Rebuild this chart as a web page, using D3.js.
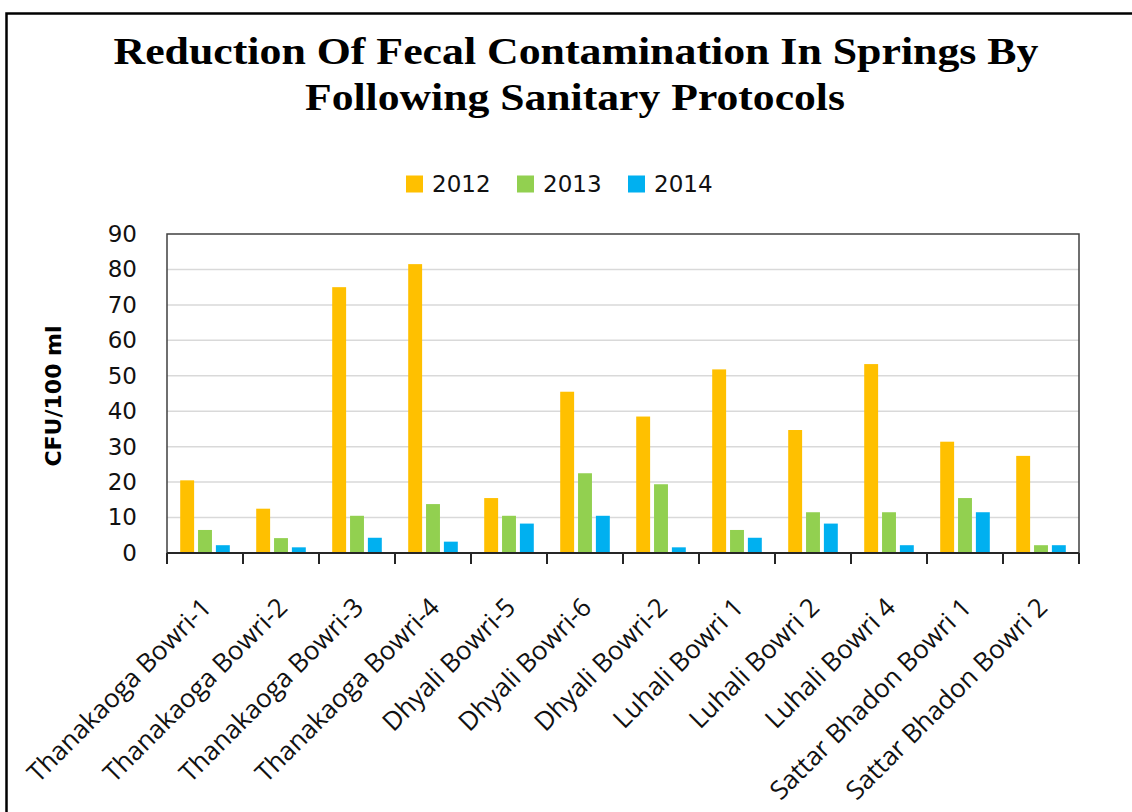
<!DOCTYPE html>
<html>
<head>
<meta charset="utf-8">
<script src="https://cdn.jsdelivr.net/npm/d3@7"></script>
<style>
  html, body { margin: 0; padding: 0; background: #fff; }
  svg { display: block; }
</style>
</head>
<body>
<div id="chart"></div>
<script>
// --- Data ---
const springs = ["Thanakaoga Bowri-1", "Thanakaoga Bowri-2", "Thanakaoga Bowri-3", "Thanakaoga Bowri-4",
                 "Dhyali Bowri-5", "Dhyali Bowri-6", "Dhyali Bowri-2", "Luhali Bowri 1",
                 "Luhali Bowri 2", "Luhali Bowri 4", "Sattar Bhadon Bowri 1", "Sattar Bhadon Bowri 2"];
const years = ["2012", "2013", "2014"];
const values2012 = [20.5, 12.5, 75, 81.5, 15.5, 45.5, 38.5, 51.8, 34.7, 53.3, 31.4, 27.4];
const values2013 = [6.5, 4.2, 10.5, 13.8, 10.5, 22.5, 19.4, 6.5, 11.5, 11.5, 15.5, 2.2];
const values2014 = [2.2, 1.6, 4.3, 3.2, 8.3, 10.5, 1.6, 4.3, 8.3, 2.2, 11.5, 2.2];
const yTicks = [0, 10, 20, 30, 40, 50, 60, 70, 80, 90];
const colors = ["#FFC000", "#92D050", "#00B0F0"];

const seriesValues = [values2012, values2013, values2014];
const rows = springs.map((s, i) => ({
  name: s,
  vals: years.map((y, k) => ({ year: y, value: seriesValues[k][i] }))
}));

const width = 1132, height = 812;
const plot = { left: 167, right: 1079, top: 234, bottom: 553 };

const svg = d3.select("#chart").append("svg")
  .attr("width", width)
  .attr("height", height);

svg.append("rect").attr("width", width).attr("height", height).attr("fill", "#fff");

// outer frame (only top and left edges are visible in the reference)
svg.append("path")
  .attr("d", `M6.5,${height} V13.5 H${width}`)
  .attr("fill", "none")
  .attr("stroke", "#000")
  .attr("stroke-width", 2.5);

// --- Title ---
const title = svg.append("text")
  .attr("text-anchor", "middle")
  .attr("font-family", "'Liberation Serif', serif")
  .attr("font-weight", "bold")
  .attr("font-size", 38)
  .attr("fill", "#000");
title.append("tspan").attr("x", 576).attr("y", 64)
  .attr("textLength", 925).attr("lengthAdjust", "spacingAndGlyphs")
  .text("Reduction Of Fecal Contamination  In Springs By");
title.append("tspan").attr("x", 575).attr("y", 110)
  .attr("textLength", 540).attr("lengthAdjust", "spacingAndGlyphs")
  .text("Following Sanitary Protocols");

// --- Legend ---
const legendX = [406, 517, 628];
const legend = svg.append("g");
years.forEach((y, k) => {
  legend.append("rect")
    .attr("x", legendX[k]).attr("y", 175.5)
    .attr("width", 17).attr("height", 17)
    .attr("fill", colors[k]);
  legend.append("text")
    .attr("x", legendX[k] + 26).attr("y", 192)
    .attr("font-family", "'DejaVu Sans', sans-serif")
    .attr("font-size", 23)
    .attr("fill", "#111")
    .text(y);
});

// --- Scales ---
const x0 = d3.scaleBand().domain(springs).range([plot.left, plot.right]).padding(0);
const x1 = d3.scaleBand().domain(years).range([0, x0.bandwidth()])
  .paddingInner(0.22).paddingOuter(0.74);
const y = d3.scaleLinear().domain([0, 90]).range([plot.bottom, plot.top]);
const color = d3.scaleOrdinal().domain(years).range(colors);

// gridlines
svg.append("g")
  .selectAll("line")
  .data(yTicks.filter(t => t > 0 && t < 90))
  .join("line")
  .attr("x1", plot.left).attr("x2", plot.right)
  .attr("y1", d => y(d)).attr("y2", d => y(d))
  .attr("stroke", "#d9d9d9")
  .attr("stroke-width", 1.5);

// bars
svg.append("g")
  .selectAll("g")
  .data(rows)
  .join("g")
  .attr("transform", d => `translate(${x0(d.name)},0)`)
  .selectAll("rect")
  .data(d => d.vals)
  .join("rect")
  .attr("x", d => x1(d.year))
  .attr("width", x1.bandwidth())
  .attr("y", d => y(d.value))
  .attr("height", d => y(0) - y(d.value))
  .attr("fill", d => color(d.year));

// plot frame (top, left, right)
svg.append("path")
  .attr("d", `M${plot.left},${plot.bottom} V${plot.top} H${plot.right} V${plot.bottom}`)
  .attr("fill", "none")
  .attr("stroke", "#404040")
  .attr("stroke-width", 1.5);

// y axis labels
const yAxis = svg.append("g")
  .attr("transform", `translate(${plot.left},0)`)
  .call(d3.axisLeft(y).tickValues(yTicks).tickSize(0).tickPadding(30));
yAxis.select(".domain").remove();
yAxis.selectAll("text")
  .attr("font-family", "'DejaVu Sans', sans-serif")
  .attr("font-size", 23)
  .attr("fill", "#111");

// x axis: line plus ticks at category boundaries
const bounds = springs.map(s => x0(s)).concat([plot.right]);
const xAxis = svg.append("g");
xAxis.append("line")
  .attr("x1", plot.left).attr("x2", plot.right)
  .attr("y1", plot.bottom).attr("y2", plot.bottom)
  .attr("stroke", "#262626").attr("stroke-width", 2);
xAxis.selectAll(".tick")
  .data(bounds)
  .join("line")
  .attr("class", "tick")
  .attr("x1", d => d).attr("x2", d => d)
  .attr("y1", plot.bottom).attr("y2", plot.bottom + 11)
  .attr("stroke", "#262626").attr("stroke-width", 2);

// rotated category labels
xAxis.selectAll(".lbl")
  .data(springs)
  .join("text")
  .attr("class", "lbl")
  .attr("text-anchor", "end")
  .attr("font-family", "'Open Sans', sans-serif")
  .attr("font-size", 26)
  .attr("fill", "#111")
  .attr("transform", d => `translate(${x0(d) + x0.bandwidth() / 2 + 8},${plot.bottom + 56}) rotate(-45)`)
  .text(d => d);

// y axis title
svg.append("text")
  .attr("transform", `translate(61,396) rotate(-90)`)
  .attr("text-anchor", "middle")
  .attr("font-family", "'DejaVu Sans', sans-serif")
  .attr("font-weight", "bold")
  .attr("font-size", 22)
  .attr("fill", "#000")
  .text("CFU/100 ml");
</script>
</body>
</html>
